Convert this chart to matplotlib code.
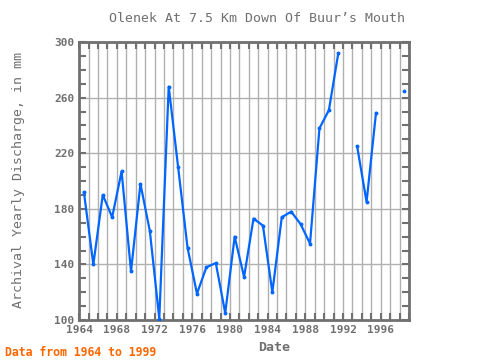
import numpy as np
import matplotlib
matplotlib.use("Agg")
import matplotlib.pyplot as plt
from matplotlib.ticker import MultipleLocator

# yearly values (nan = missing year)
years = list(range(1964, 1999))
discharge = [192, 140, 190, 174, 207, 135, 198, 164, 101, 268,
             210, 152, 119, 138, 141, 105, 160, 131, 173, 168,
             120, 174, 178, 169, 155, 238, 251, 292, np.nan, 225,
             185, 249, np.nan, np.nan, 265]
xticks = [1964, 1968, 1972, 1976, 1980, 1984, 1988, 1992, 1996]
yticks = [100, 140, 180, 220, 260, 300]

gray = "#707070"
plt.rcParams["font.family"] = "DejaVu Sans Mono"

fig = plt.figure(figsize=(4.8, 3.6), dpi=100)
ax = fig.add_axes([0.165, 0.111, 0.687, 0.772])

x = np.array(years) + 0.5
ax.plot(x, discharge, color="#0066ff", lw=1.6, marker="o", ms=1.8, zorder=3)

ax.set_xlim(1964, 1999)
ax.set_ylim(100, 300)
ax.set_xticks(xticks)
ax.set_yticks(yticks)
ax.xaxis.set_minor_locator(MultipleLocator(1))
ax.yaxis.set_minor_locator(MultipleLocator(10))
ax.grid(True, which="major", axis="y", color="#b0b0b0", lw=1)
ax.grid(True, which="both", axis="x", color="#b0b0b0", lw=1)

ax.tick_params(which="both", direction="in", top=True, right=True,
               length=5, width=1.5, color=gray, labelsize=8,
               labelcolor=gray)
for lab in ax.get_xticklabels() + ax.get_yticklabels():
    lab.set_fontweight("bold")
for s in ax.spines.values():
    s.set_color(gray)
    s.set_linewidth(2)

fig.text(0.535, 0.95, "Olenek At 7.5 Km Down Of Buur\u2019s Mouth",
         ha="center", va="center", fontsize=9.5, color=gray)
fig.text(0.038, 0.5, "Archival Yearly Discharge, in mm", rotation=90,
         ha="center", va="center", fontsize=9.5, color=gray)
fig.text(0.571, 0.035, "Date", ha="center", va="center", fontsize=9.5,
         color=gray, fontweight="bold")
fig.text(0.01, 0.022, "Data from 1964 to 1999", ha="left", va="center",
         fontsize=8.3, color="#ff6600", fontweight="bold")

fig.savefig("out.png", dpi=100)
